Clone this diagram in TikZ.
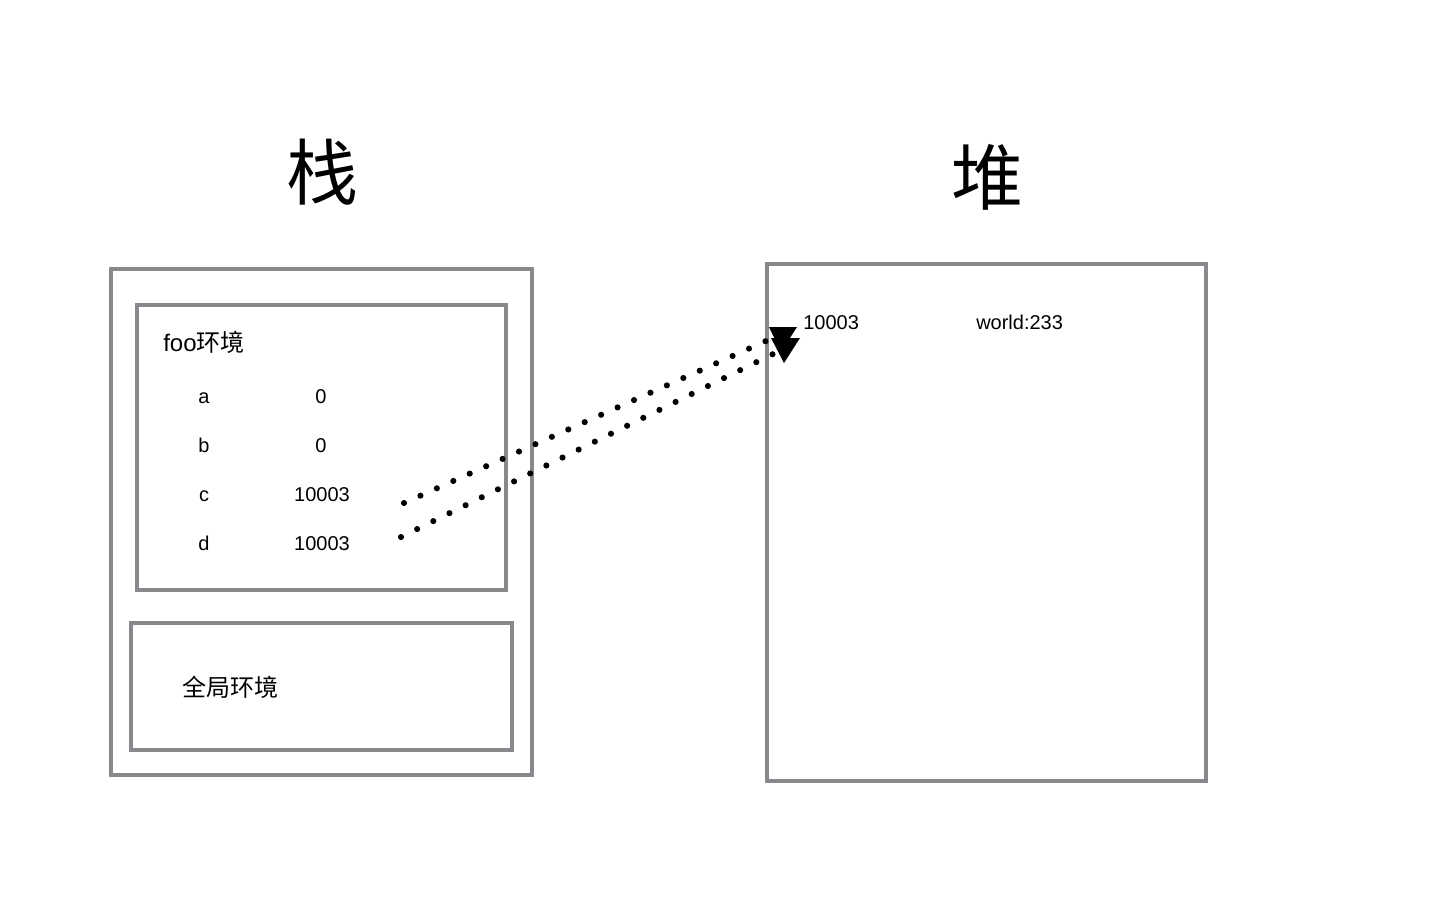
\documentclass[tikz,border=0pt]{standalone}
\usepackage{fontspec}
\setmainfont{Liberation Sans}
\newfontfamily\cjk{Noto Sans CJK SC}
\definecolor{boxgray}{HTML}{88898C}
\begin{document}
\begin{tikzpicture}[x=0.75pt,y=-0.75pt,
  frame/.style={draw=boxgray,line width=3pt},
  title/.style={inner sep=0pt,font=\cjk\fontsize{54}{60}\selectfont},
  label/.style={inner sep=0pt,anchor=base west,font=\fontsize{18}{22}\selectfont},
  val/.style={inner sep=0pt,anchor=base,font=\fontsize{15}{18}\selectfont},
  dotline/.style={line width=4.6pt,line cap=round,dash pattern=on 0pt off 13.5pt},
  head/.style={fill=black}]
\useasboundingbox (0,0) rectangle (1450,900);
% titles
\node[title] (zhan) at (322,172) {栈};
\node[title] (dui) at (987,177) {堆};
% boxes
\draw[frame] (111,269) rectangle (532,775);
\draw[frame] (137,305) rectangle (506,590);
\draw[frame] (131,623) rectangle (512,750);
\draw[frame] (767,264) rectangle (1206,781);
% labels
\node[label] (foo) at (163,351) {foo{\cjk 环境}};
\node[label] (glob) at (182,696) {\cjk 全局环境};
\node[val] (na) at (204,403) {a};
\node[val] (va) at (321,403) {0};
\node[val] (nb) at (204,452) {b};
\node[val] (vb) at (321,452) {0};
\node[val] (nc) at (204,501) {c};
\node[val] (vc) at (322,501) {10003};
\node[val] (nd) at (204,550) {d};
\node[val] (vd) at (322,550) {10003};
\node[val,anchor=base west] (haddr) at (803,329) {10003};
\node[val,anchor=base west] (hval) at (976,329) {world:233};
% connectors
\coordinate (cs) at (404,503);
\coordinate (ce) at (766,341);
\coordinate (ds) at (401,537);
\coordinate (de) at (773,354);
\draw[dotline] (cs) -- (ce);
\draw[dotline] (ds) -- (de);
\fill[head] (769,327) -- (797,327) -- (781,352) -- cycle;
\fill[head] (771,338) -- (800,338) -- (784,363) -- cycle;
\end{tikzpicture}
\end{document}
